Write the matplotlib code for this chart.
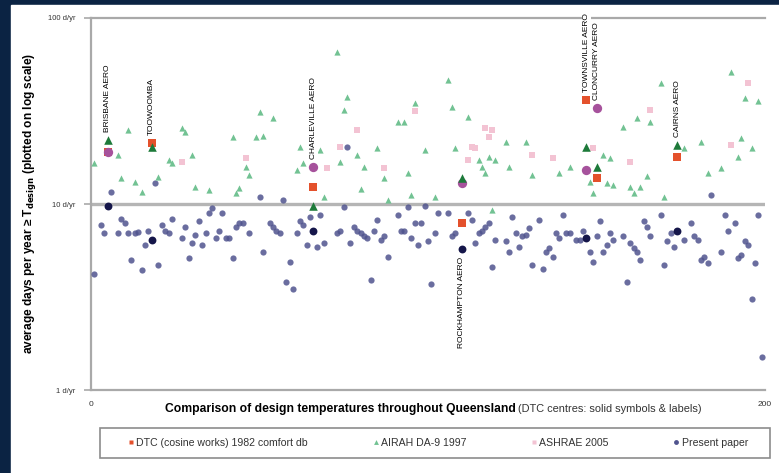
import numpy as np
import matplotlib
matplotlib.use('Agg')
import matplotlib.pyplot as plt
from matplotlib.lines import Line2D
from matplotlib.patches import Rectangle

plt.rcParams['font.family'] = ['Liberation Sans', 'DejaVu Sans']

# Present paper (location index, days per year)
pp_x = [1, 3, 4, 6, 8, 9, 10, 11, 12, 13, 14, 15, 16, 17, 19, 20, 21, 22, 23, 24,
        27, 28, 29, 30, 31, 32, 33, 34, 35, 36, 37, 38, 39, 40, 41, 42, 43, 44, 45, 47,
        50, 51, 53, 54, 55, 56, 57, 58, 59, 60, 61, 62, 63, 64, 65, 67, 68, 69, 73, 74,
        75, 76, 77, 78, 79, 80, 81, 82, 83, 84, 85, 86, 87, 88, 91, 92, 93, 94, 95, 96,
        97, 98, 99, 100, 101, 102, 103, 106, 107, 108, 112, 113, 114, 115, 116, 117, 118, 119, 120, 123,
        124, 125, 126, 127, 128, 129, 130, 131, 133, 134, 135, 136, 137, 138, 139, 140, 141, 142, 144, 145,
        146, 148, 149, 150, 151, 152, 153, 154, 155, 158, 159, 160, 161, 162, 163, 164, 165, 166, 169, 170,
        171, 172, 173, 176, 178, 179, 180, 181, 182, 183, 184, 187, 188, 189, 191, 192, 193, 194, 195, 196,
        197, 198, 199]
pp_y = [4.2, 7.7, 7.0, 11.6, 7.0, 8.3, 7.9, 7.0, 5.0, 7.0, 7.1, 4.4, 6.0, 7.2, 13.0, 4.7, 7.7, 7.2, 7.0, 8.3,
        6.6, 7.5, 5.1, 6.2, 6.8, 8.1, 6.0, 7.0, 9.0, 9.5, 6.6, 7.2, 9.0, 6.6, 6.6, 5.1, 7.5, 7.9, 7.9, 7.0,
        10.9, 5.5, 7.9, 7.5, 7.2, 7.0, 10.5, 3.8, 4.9, 3.5, 7.0, 8.1, 7.7, 6.0, 8.5, 5.9, 8.7, 6.2, 7.0, 7.2,
        9.6, 20.3, 6.2, 7.5, 7.2, 7.0, 6.7, 6.6, 3.9, 7.2, 8.2, 6.4, 6.7, 5.2, 8.7, 7.2, 7.2, 9.6, 6.6, 7.9,
        6.0, 7.9, 9.8, 6.3, 3.7, 7.0, 9.0, 8.9, 6.7, 7.0, 9.0, 8.2, 6.2, 7.0, 7.2, 7.5, 7.9, 4.6, 6.4, 6.3,
        5.5, 8.5, 7.0, 5.9, 6.7, 6.8, 7.4, 4.7, 8.2, 4.5, 5.5, 5.8, 5.2, 7.0, 6.6, 8.7, 7.0, 7.0, 6.4, 6.4,
        7.2, 5.5, 4.9, 6.7, 8.1, 5.5, 6.0, 7.0, 6.4, 6.7, 3.8, 6.2, 5.8, 5.5, 5.0, 8.1, 7.5, 6.7, 8.7, 4.7,
        6.3, 7.0, 5.9, 6.4, 7.9, 6.7, 6.4, 5.0, 5.2, 4.8, 11.2, 5.5, 8.7, 7.2, 7.9, 5.1, 5.3, 6.3, 6.0, 3.1,
        4.8, 8.7, 1.5]

# AIRAH DA-9 1997
airah_x = [1, 8, 9, 11, 13, 15, 20, 23, 24, 27, 28, 30, 31, 35, 42, 43, 44, 46, 47, 49,
           50, 51, 54, 61, 62, 63, 68, 69, 73, 74, 75, 76, 79, 80, 81, 85, 87, 88, 91, 93,
           94, 95, 96, 99, 102, 106, 107, 108, 112, 115, 116, 117, 118, 119, 120, 123, 124, 129, 131, 139,
           142, 148, 149, 150, 152, 153, 154, 155, 158, 160, 161, 162, 163, 165, 166, 169, 170, 176, 181, 183,
           187, 190, 192, 193, 194, 196, 198]
airah_y = [16.6, 18.4, 13.8, 25.0, 13.2, 11.6, 14.0, 17.2, 16.6, 25.6, 24.5, 18.4, 12.3, 11.9, 23.0, 11.5, 12.2, 15.8, 14.3, 23.0,
           31.3, 23.3, 29.0, 15.2, 20.3, 16.6, 19.5, 10.9, 65.7, 16.8, 32.0, 37.6, 18.4, 12.0, 15.8, 20.0, 13.8, 10.5, 27.6, 27.6,
           14.7, 11.2, 35.0, 19.5, 10.9, 46.4, 33.2, 20.0, 29.4, 17.2, 15.8, 14.6, 17.8, 9.3, 17.2, 21.6, 15.8, 21.6, 14.3, 14.6,
           15.8, 13.2, 11.5, 15.8, 18.4, 13.0, 17.6, 12.6, 25.9, 12.3, 11.5, 29.0, 12.3, 14.1, 27.6, 44.8, 10.9, 20.0, 21.6, 14.6,
           15.6, 51.2, 17.8, 22.6, 37.2, 20.0, 35.8]

# ASHRAE 2005
ashrae_x = [27, 46, 70, 74, 79, 87, 96, 112, 113, 114, 117, 118, 119, 131, 137, 149, 160, 166, 190, 195]
ashrae_y = [16.8, 17.6, 15.6, 20.3, 25.0, 15.6, 31.6, 17.2, 20.3, 20.0, 25.6, 23.0, 25.0, 18.4, 17.6, 20.0, 16.8, 32.0, 20.8, 44.8]

# DTC centres
dtc_names = ['BRISBANE AERO', 'TOOWOOMBA', 'CHARLEVILLE AERO', 'ROCKHAMPTON AERO',
             'TOWNSVILLE AERO', 'CLONCURRY AERO', 'CAIRNS AERO']
dtc_x = [5, 18, 66, 110, 147, 150, 174]
dtc_1982 = [19.0, 21.3, 12.3, 7.9, 36.2, 13.8, 17.8]
dtc_airah = [22.1, 20.3, 9.8, 13.8, 20.3, 15.8, 20.8]
dtc_ashrae = [19.0, np.nan, 15.8, 13.0, 15.3, 33.0, np.nan]
dtc_present = [9.8, 6.4, 7.2, 5.7, 6.6, np.nan, 7.2]
label_below = [False, False, False, True, False, False, False]

navy_bg = '#0b2343'
c_pp = '#50548e'
c_pp_dtc = '#15164a'
c_airah = '#72c293'
c_airah_dtc = '#1d7a3a'
c_ashrae = '#f3c3d3'
c_ashrae_dtc = '#a6529c'
c_red = '#e4512c'
grey = '#a9a9a9'

fig = plt.figure(figsize=(7.79, 4.73), dpi=100, facecolor=navy_bg)
fig.patches.append(Rectangle((11 / 779, 0), 1 - 11 / 779, 1 - 5 / 473,
                             transform=fig.transFigure, color='white', zorder=-10))
# legend box
fig.patches.append(Rectangle((100 / 779, 1 - 458 / 473), 670 / 779, 30 / 473,
                             transform=fig.transFigure, fc='white', ec='#8c8c8c',
                             lw=1.2, zorder=-5))
ax = fig.add_axes([91 / 779, 1 - 390 / 473, (765 - 91) / 779, (390 - 18) / 473])
ax.set_facecolor('none')

ax.set_yscale('log')
ax.set_ylim(1, 100)
ax.set_xlim(0, 200)

ax.axhline(10, color='#b5b5b5', lw=2.4, zorder=1)

ax.scatter(pp_x, pp_y, s=20, marker='o', color=c_pp, alpha=0.85, lw=0, zorder=3)
ax.scatter(airah_x, airah_y, s=20, marker='^', color=c_airah, lw=0, zorder=3)
ax.scatter(ashrae_x, ashrae_y, s=18, marker='s', color=c_ashrae, lw=0, zorder=3)

ax.scatter(dtc_x, dtc_1982, s=30, marker='s', color=c_red, lw=0, zorder=4)
ax.scatter(dtc_x, dtc_ashrae, s=45, marker='o', color=c_ashrae_dtc, lw=0, zorder=4)
ax.scatter(dtc_x, dtc_airah, s=38, marker='^', color=c_airah_dtc, lw=0, zorder=5)
ax.scatter(dtc_x, dtc_present, s=32, marker='o', color=c_pp_dtc, lw=0, zorder=5)

for name, x, a, b, c, d, below in zip(dtc_names, dtc_x, dtc_1982, dtc_airah,
                                       dtc_ashrae, dtc_present, label_below):
    if below:
        ax.text(x, d / 1.1, name, rotation=90, ha='center', va='top', fontsize=6,
                color='black', bbox=dict(fc='white', ec='none', pad=0.6), zorder=6)
    else:
        top = np.nanmax([a, b, c, d])
        ax.text(x, top * 1.1, name, rotation=90, ha='center', va='bottom', fontsize=6,
                color='black', bbox=dict(fc='white', ec='none', pad=0.6), zorder=6)

for side in ['left', 'bottom', 'top']:
    ax.spines[side].set_color(grey)
    ax.spines[side].set_linewidth(1.6)
ax.spines['right'].set_visible(False)

ax.set_yticks([1, 10, 100])
ax.set_yticklabels(['1 d/yr', '10 d/yr', '100 d/yr'])
ax.yaxis.set_minor_locator(matplotlib.ticker.NullLocator())
ax.tick_params(axis='y', length=5, width=1.2, color=grey, labelsize=5.5,
               labelcolor='#333333', pad=6)
ax.set_xticks([0, 200])
ax.set_xticklabels(['0', '200'])
ax.tick_params(axis='x', length=0, labelsize=6, labelcolor='#333333', pad=8)

fig.text(30 / 779, 1 - 203 / 473,
         r'average days per year ≥ T$_{\mathbf{design}}$ (plotted on log scale)',
         rotation=90, ha='center', va='center', fontsize=8.6, fontweight='bold')

fig.text(516 / 779, 1 - 409 / 473,
         'Comparison of design temperatures throughout Queensland',
         ha='right', va='center', fontsize=8.7, fontweight='bold')
fig.text(518 / 779, 1 - 409 / 473, '(DTC centres: solid symbols & labels)',
         ha='left', va='center', fontsize=7.9, color='#333333')

handles = [
    Line2D([], [], ls='none', marker='s', ms=3.5, color=c_red, mec='none'),
    Line2D([], [], ls='none', marker='^', ms=3.5, color=c_airah, mec='none'),
    Line2D([], [], ls='none', marker='s', ms=3.5, color=c_ashrae, mec='none'),
    Line2D([], [], ls='none', marker='o', ms=3.5, color=c_pp, mec='none'),
]
labels = ['DTC (cosine works) 1982 comfort db', 'AIRAH DA-9 1997', 'ASHRAE 2005', 'Present paper']
leg = fig.legend(handles, labels, ncol=4, mode='expand', fontsize=7.6,
                 bbox_to_anchor=(128 / 779, 1 - 458 / 473, 620 / 779, 30 / 473),
                 loc='center', borderaxespad=0, handlelength=0.6, handletextpad=0.2,
                 borderpad=0.0, frameon=False)
for t in leg.get_texts():
    t.set_color('#333333')

fig.savefig('out.png', dpi=100, facecolor=navy_bg)
